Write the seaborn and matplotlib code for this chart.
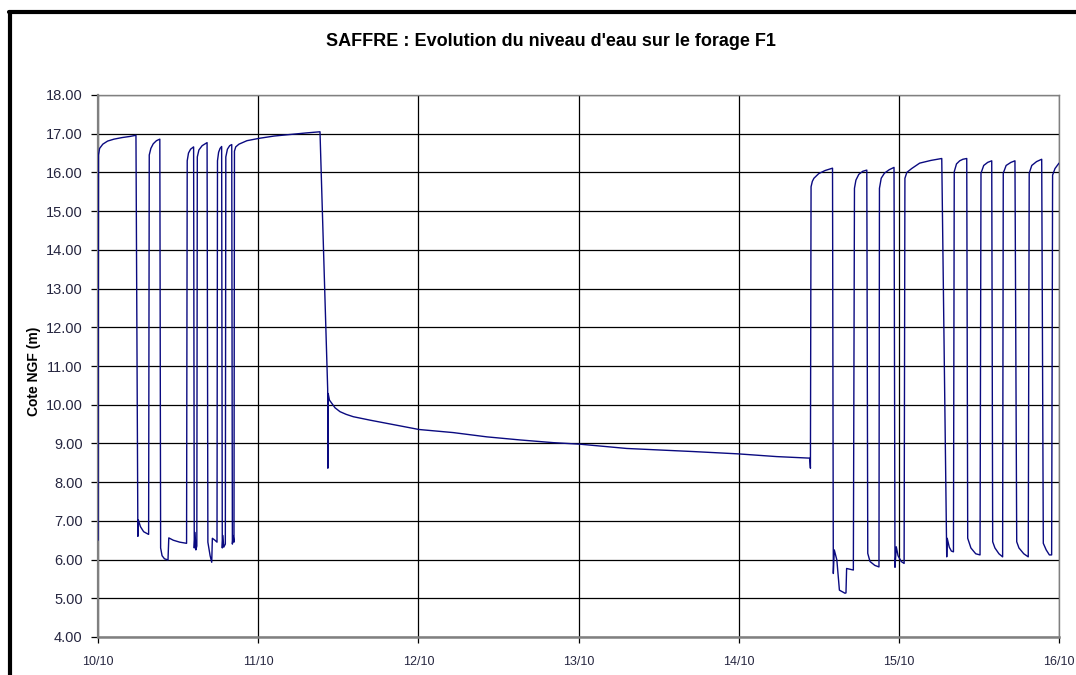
import matplotlib
matplotlib.use("Agg")
import matplotlib.pyplot as plt
import seaborn as sns
import pandas as pd
from matplotlib.lines import Line2D

# ---- data (days since 10/10, water level in m NGF) ----
jours = [
    0.000, 0.003, 0.010, 0.030, 0.060, 0.100, 0.150, 0.200, 0.237,
    0.249, 0.252, 0.265, 0.285, 0.316,
    0.320, 0.330, 0.345, 0.365, 0.386,
    0.391, 0.400, 0.415, 0.437, 0.442, 0.470, 0.510, 0.553,
    0.557, 0.565, 0.578, 0.597,
    0.601, 0.606, 0.611, 0.617,
    0.620, 0.630, 0.650, 0.681,
    0.686, 0.700, 0.710, 0.714, 0.730, 0.743,
    0.746, 0.753, 0.762, 0.772,
    0.776, 0.780, 0.785, 0.795,
    0.798, 0.808, 0.822, 0.835,
    0.839, 0.844, 0.849,
    0.852, 0.860, 0.880, 0.930, 1.005, 1.100, 1.200, 1.300, 1.386,
    1.434, 1.435, 1.437, 1.445, 1.459, 1.480, 1.511, 1.550, 1.594, 1.700,
    1.802, 2.004, 2.218,
    2.427, 2.635, 2.843, 3.010, 3.301, 3.717, 3.998, 4.237, 4.444,
    4.448, 4.452, 4.460, 4.470, 4.500, 4.540, 4.586,
    4.591, 4.597, 4.613, 4.629, 4.664, 4.670, 4.674, 4.716,
    4.723, 4.732, 4.750, 4.775, 4.800,
    4.806, 4.820, 4.850, 4.876,
    4.879, 4.890, 4.910, 4.940, 4.970,
    4.976, 4.984, 4.995, 5.015, 5.033,
    5.038, 5.050, 5.080, 5.130, 5.200, 5.268,
    5.299, 5.302, 5.315, 5.328, 5.341,
    5.346, 5.360, 5.380, 5.400, 5.424,
    5.430, 5.450, 5.480, 5.507,
    5.513, 5.530, 5.555, 5.580,
    5.586, 5.600, 5.625, 5.648,
    5.652, 5.670, 5.700, 5.725,
    5.736, 5.750, 5.780, 5.808,
    5.814, 5.830, 5.860, 5.892,
    5.902, 5.920, 5.940, 5.954,
    5.960, 5.975, 6.000,
]
cote = [
    6.50, 16.45, 16.62, 16.73, 16.81, 16.86, 16.90, 16.93, 16.96,
    6.60, 7.02, 6.85, 6.72, 6.65,
    16.45, 16.62, 16.74, 16.82, 16.86,
    6.30, 6.10, 6.02, 5.99, 6.56, 6.50, 6.45, 6.42,
    16.30, 16.50, 16.60, 16.66,
    6.30, 6.70, 6.25, 6.35,
    16.40, 16.58, 16.69, 16.77,
    6.45, 6.10, 5.93, 6.55, 6.50, 6.45,
    16.30, 16.52, 16.62, 16.67,
    6.30, 6.62, 6.32, 6.40,
    16.40, 16.60, 16.69, 16.72,
    6.40, 6.62, 6.45,
    16.55, 16.66, 16.73, 16.82, 16.88, 16.94, 16.98, 17.02, 17.05,
    10.40, 8.36, 10.29, 10.12, 10.04, 9.92, 9.82, 9.75, 9.69, 9.60,
    9.52, 9.36, 9.28,
    9.17, 9.09, 9.02, 8.98, 8.87, 8.79, 8.73, 8.66, 8.62,
    8.36, 15.63, 15.77, 15.85, 15.97, 16.05, 16.11,
    5.64, 6.25, 5.99, 5.21, 5.13, 5.14, 5.77, 5.73,
    15.59, 15.80, 15.95, 16.03, 16.06,
    6.16, 5.95, 5.85, 5.81,
    15.59, 15.85, 15.98, 16.07, 16.13,
    5.80, 6.33, 6.10, 5.95, 5.90,
    15.85, 16.00, 16.10, 16.24, 16.31, 16.36,
    6.07, 6.55, 6.32, 6.22, 6.20,
    16.02, 16.22, 16.30, 16.34, 16.36,
    6.55, 6.30, 6.15, 6.12,
    15.98, 16.18, 16.26, 16.30,
    6.46, 6.30, 6.15, 6.07,
    15.98, 16.18, 16.26, 16.30,
    6.46, 6.30, 6.15, 6.07,
    15.98, 16.18, 16.28, 16.34,
    6.42, 6.25, 6.12, 6.12,
    15.93, 16.10, 16.24,
]
jour_ticks = [0, 1, 2, 3, 4, 5, 6]
jour_labels = ["10/10", "11/10", "12/10", "13/10", "14/10", "15/10", "16/10"]
cote_ticks = [4, 5, 6, 7, 8, 9, 10, 11, 12, 13, 14, 15, 16, 17, 18]
titre = "SAFFRE : Evolution du niveau d'eau sur le forage F1"
ylabel = "Cote NGF (m)"

df = pd.DataFrame({"jour": jours, "cote": cote})

sns.set_theme(style="white")
plt.rcParams["font.family"] = ["Liberation Sans", "DejaVu Sans"]

W, H = 1076, 675
fig = plt.figure(figsize=(W / 100, H / 100), dpi=100)
ax = fig.add_axes([98 / W, 1 - 637 / H, (1059 - 98) / W, (637 - 95) / H])

sns.lineplot(data=df, x="jour", y="cote", ax=ax, sort=False, estimator=None,
             color="#0a0a80", linewidth=1.0, zorder=3)

ax.set_xlim(0, 6)
ax.set_ylim(4, 18)
ax.set_xticks(jour_ticks)
ax.set_xticklabels(jour_labels)
ax.set_yticks(cote_ticks)
ax.set_yticklabels([f"{v:.2f}" for v in cote_ticks])

ax.grid(True, color="black", linewidth=0.9, zorder=1)
for s in ["left", "right", "top", "bottom"]:
    ax.spines[s].set_color("#808080")
    ax.spines[s].set_visible(True)
ax.spines["left"].set_linewidth(1.6)
ax.spines["bottom"].set_linewidth(1.8)
ax.spines["top"].set_linewidth(1.0)
ax.spines["right"].set_linewidth(1.0)

lab_col = "#262640"
ax.tick_params(axis="y", which="major", direction="out", length=5, width=0.9,
               color="black", labelsize=10.5, labelcolor=lab_col, pad=6, left=True)
ax.tick_params(axis="x", which="major", direction="out", length=4, width=0.9,
               color="black", labelsize=9, labelcolor=lab_col, pad=10, bottom=True)

ax.set_xlabel("")
ax.set_ylabel("")
fig.text(34 / W, 1 - 371 / H, ylabel, rotation=90, ha="center", va="center",
         fontsize=10, fontweight="bold", color="black")
fig.text(551 / W, 1 - 42 / H, titre, ha="center", va="center",
         fontsize=13, fontweight="bold", color="black")

# outer chart frame (left and top edges visible)
fig.add_artist(Line2D([10 / W, 10 / W], [0, 1 - 12 / H], transform=fig.transFigure,
                      color="black", linewidth=3.0))
fig.add_artist(Line2D([8.5 / W, 1], [1 - 12 / H, 1 - 12 / H], transform=fig.transFigure,
                      color="black", linewidth=3.0))

fig.savefig("out.png", dpi=100)
